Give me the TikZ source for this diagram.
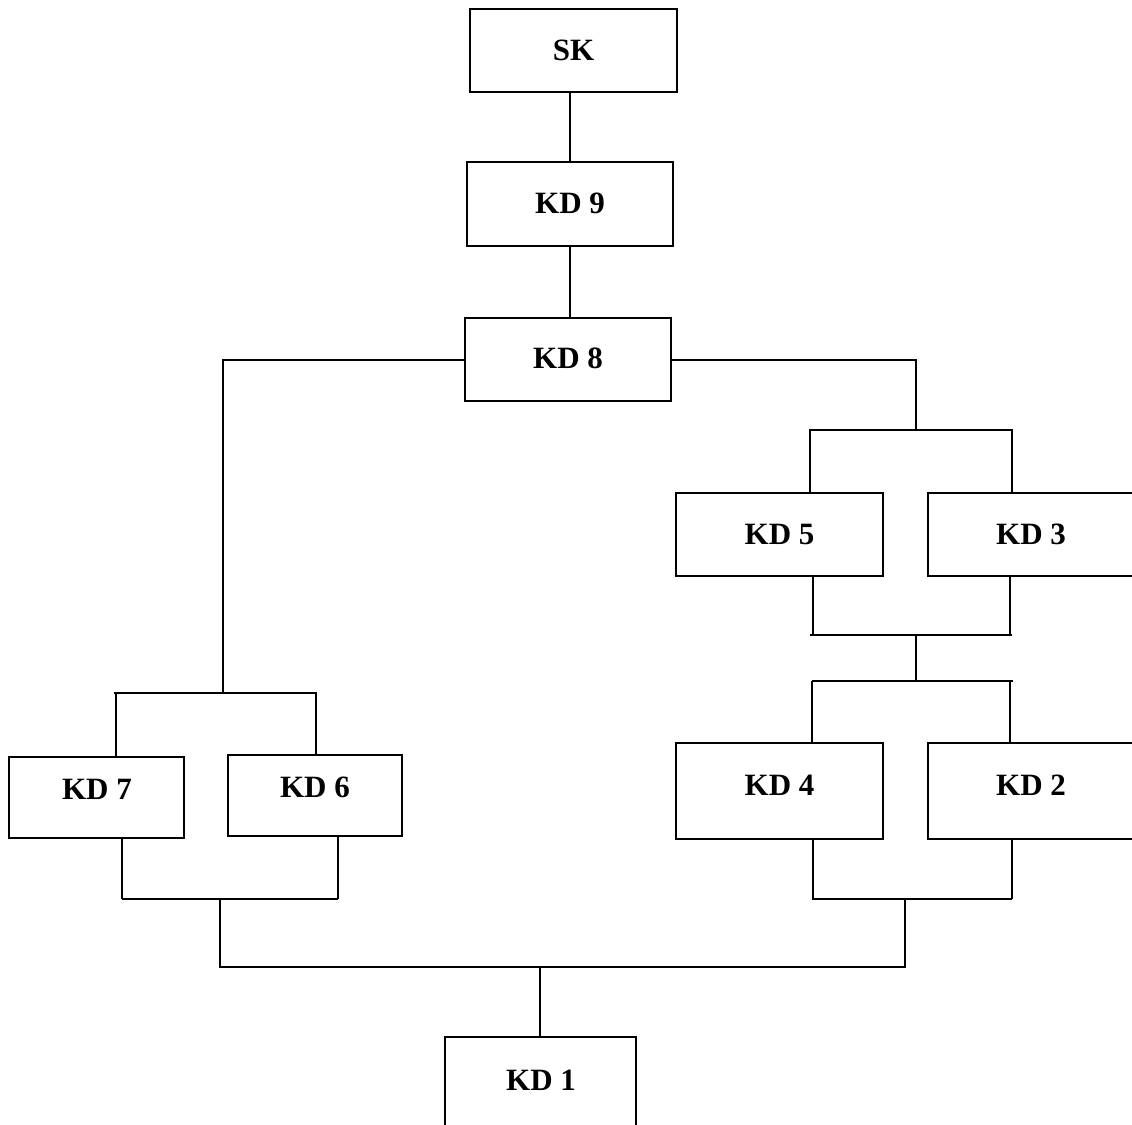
\documentclass[tikz,border=0pt]{standalone}
\usepackage{fontspec}
\setmainfont{Liberation Serif}
\begin{document}
\begin{tikzpicture}[x=1pt,y=-1pt,line width=2pt,
  box/.style={draw,rectangle,inner sep=0pt,line width=2pt},
  lbl/.style={anchor=base,inner sep=0pt,font=\fontsize{31}{37}\selectfont\bfseries},
  wire/.style={draw,line width=2pt}]
\useasboundingbox (0,0) rectangle (1132,1124);
\clip (0,0) rectangle (1132,1124);
\fill[white] (0,0) rectangle (1132,1124);
% boxes
\node[box,minimum width=207pt,minimum height=83pt] (sk)  at (573.5,50.5) {};
\node[box,minimum width=206pt,minimum height=84pt] (kd9) at (570,204) {};
\node[box,minimum width=206pt,minimum height=83pt] (kd8) at (568,359.5) {};
\node[box,minimum width=207pt,minimum height=83pt] (kd5) at (779.5,534.5) {};
\node[box,minimum width=206pt,minimum height=83pt] (kd3) at (1031,534.5) {};
\node[box,minimum width=207pt,minimum height=96pt] (kd4) at (779.5,791) {};
\node[box,minimum width=206pt,minimum height=96pt] (kd2) at (1031,791) {};
\node[box,minimum width=175pt,minimum height=81pt] (kd7) at (96.5,797.5) {};
\node[box,minimum width=174pt,minimum height=81pt] (kd6) at (315,795.5) {};
\node[box,minimum width=191pt,minimum height=96pt] (kd1) at (540.5,1085) {};
% labels
\node[lbl] (tsk)  at (573.5,60.5) {SK};
\node[lbl] (tkd9) at (570,213.5) {KD 9};
\node[lbl] (tkd8) at (568,368) {KD 8};
\node[lbl] (tkd5) at (779.5,544) {KD 5};
\node[lbl] (tkd3) at (1031,544) {KD 3};
\node[lbl] (tkd4) at (779.5,795) {KD 4};
\node[lbl] (tkd2) at (1031,795) {KD 2};
\node[lbl] (tkd7) at (97,799) {KD 7};
\node[lbl] (tkd6) at (315,797) {KD 6};
\node[lbl] (tkd1) at (541,1090) {KD 1};
% junction coordinates
\coordinate (a9) at (570,0);
\coordinate (jL) at (223,693);
\coordinate (jLa) at (114,693);
\coordinate (jLb) at (317,693);
\coordinate (j7) at (116,693);
\coordinate (j6) at (316,693);
\coordinate (jR) at (916,430);
\coordinate (jRa) at (809,430);
\coordinate (jRb) at (1013,430);
\coordinate (j5t) at (810,430);
\coordinate (j3t) at (1012,430);
\coordinate (m1a) at (810,635);
\coordinate (m1b) at (1012,635);
\coordinate (j5b) at (813,635);
\coordinate (j3b) at (1010,635);
\coordinate (m1) at (916,635);
\coordinate (m2) at (916,681);
\coordinate (m2a) at (812,681);
\coordinate (m2b) at (1013,681);
\coordinate (j4t) at (812,681);
\coordinate (j2t) at (1010,681);
\coordinate (n1a) at (812,899);
\coordinate (n1b) at (1012,899);
\coordinate (j4b) at (813,899);
\coordinate (j2b) at (1012,899);
\coordinate (nR) at (905,899);
\coordinate (l1a) at (122,899);
\coordinate (l1b) at (338,899);
\coordinate (j7b) at (122,899);
\coordinate (j6b) at (338,899);
\coordinate (nL) at (220,899);
\coordinate (bL) at (220,967);
\coordinate (bR) at (905,967);
\coordinate (b1) at (540,967);
% connectors
\draw[wire] (a9 |- sk.south) -- (a9 |- kd9.north);
\draw[wire] (a9 |- kd9.south) -- (a9 |- kd8.north);
\draw[wire] (kd8.west) -| (jL);
\draw[wire] (jLa) -- (jLb);
\draw[wire] (j7) -- (j7 |- kd7.north);
\draw[wire] (j6) -- (j6 |- kd6.north);
\draw[wire] (kd8.east) -| (jR);
\draw[wire] (jRa) -- (jRb);
\draw[wire] (j5t) -- (j5t |- kd5.north);
\draw[wire] (j3t) -- (j3t |- kd3.north);
\draw[wire] (j5b |- kd5.south) -- (j5b);
\draw[wire] (j3b |- kd3.south) -- (j3b);
\draw[wire] (m1a) -- (m1b);
\draw[wire] (m1) -- (m2);
\draw[wire] (m2a) -- (m2b);
\draw[wire] (j4t) -- (j4t |- kd4.north);
\draw[wire] (j2t) -- (j2t |- kd2.north);
\draw[wire] (j4b |- kd4.south) -- (j4b);
\draw[wire] (j2b |- kd2.south) -- (j2b);
\draw[wire] (n1a) -- (n1b);
\draw[wire] (j7b |- kd7.south) -- (j7b);
\draw[wire] (j6b |- kd6.south) -- (j6b);
\draw[wire] (l1a) -- (l1b);
\draw[wire] (nL) -- (bL) -- (bR) -- (nR);
\draw[wire] (b1) -- (b1 |- kd1.north);
\end{tikzpicture}
\end{document}
